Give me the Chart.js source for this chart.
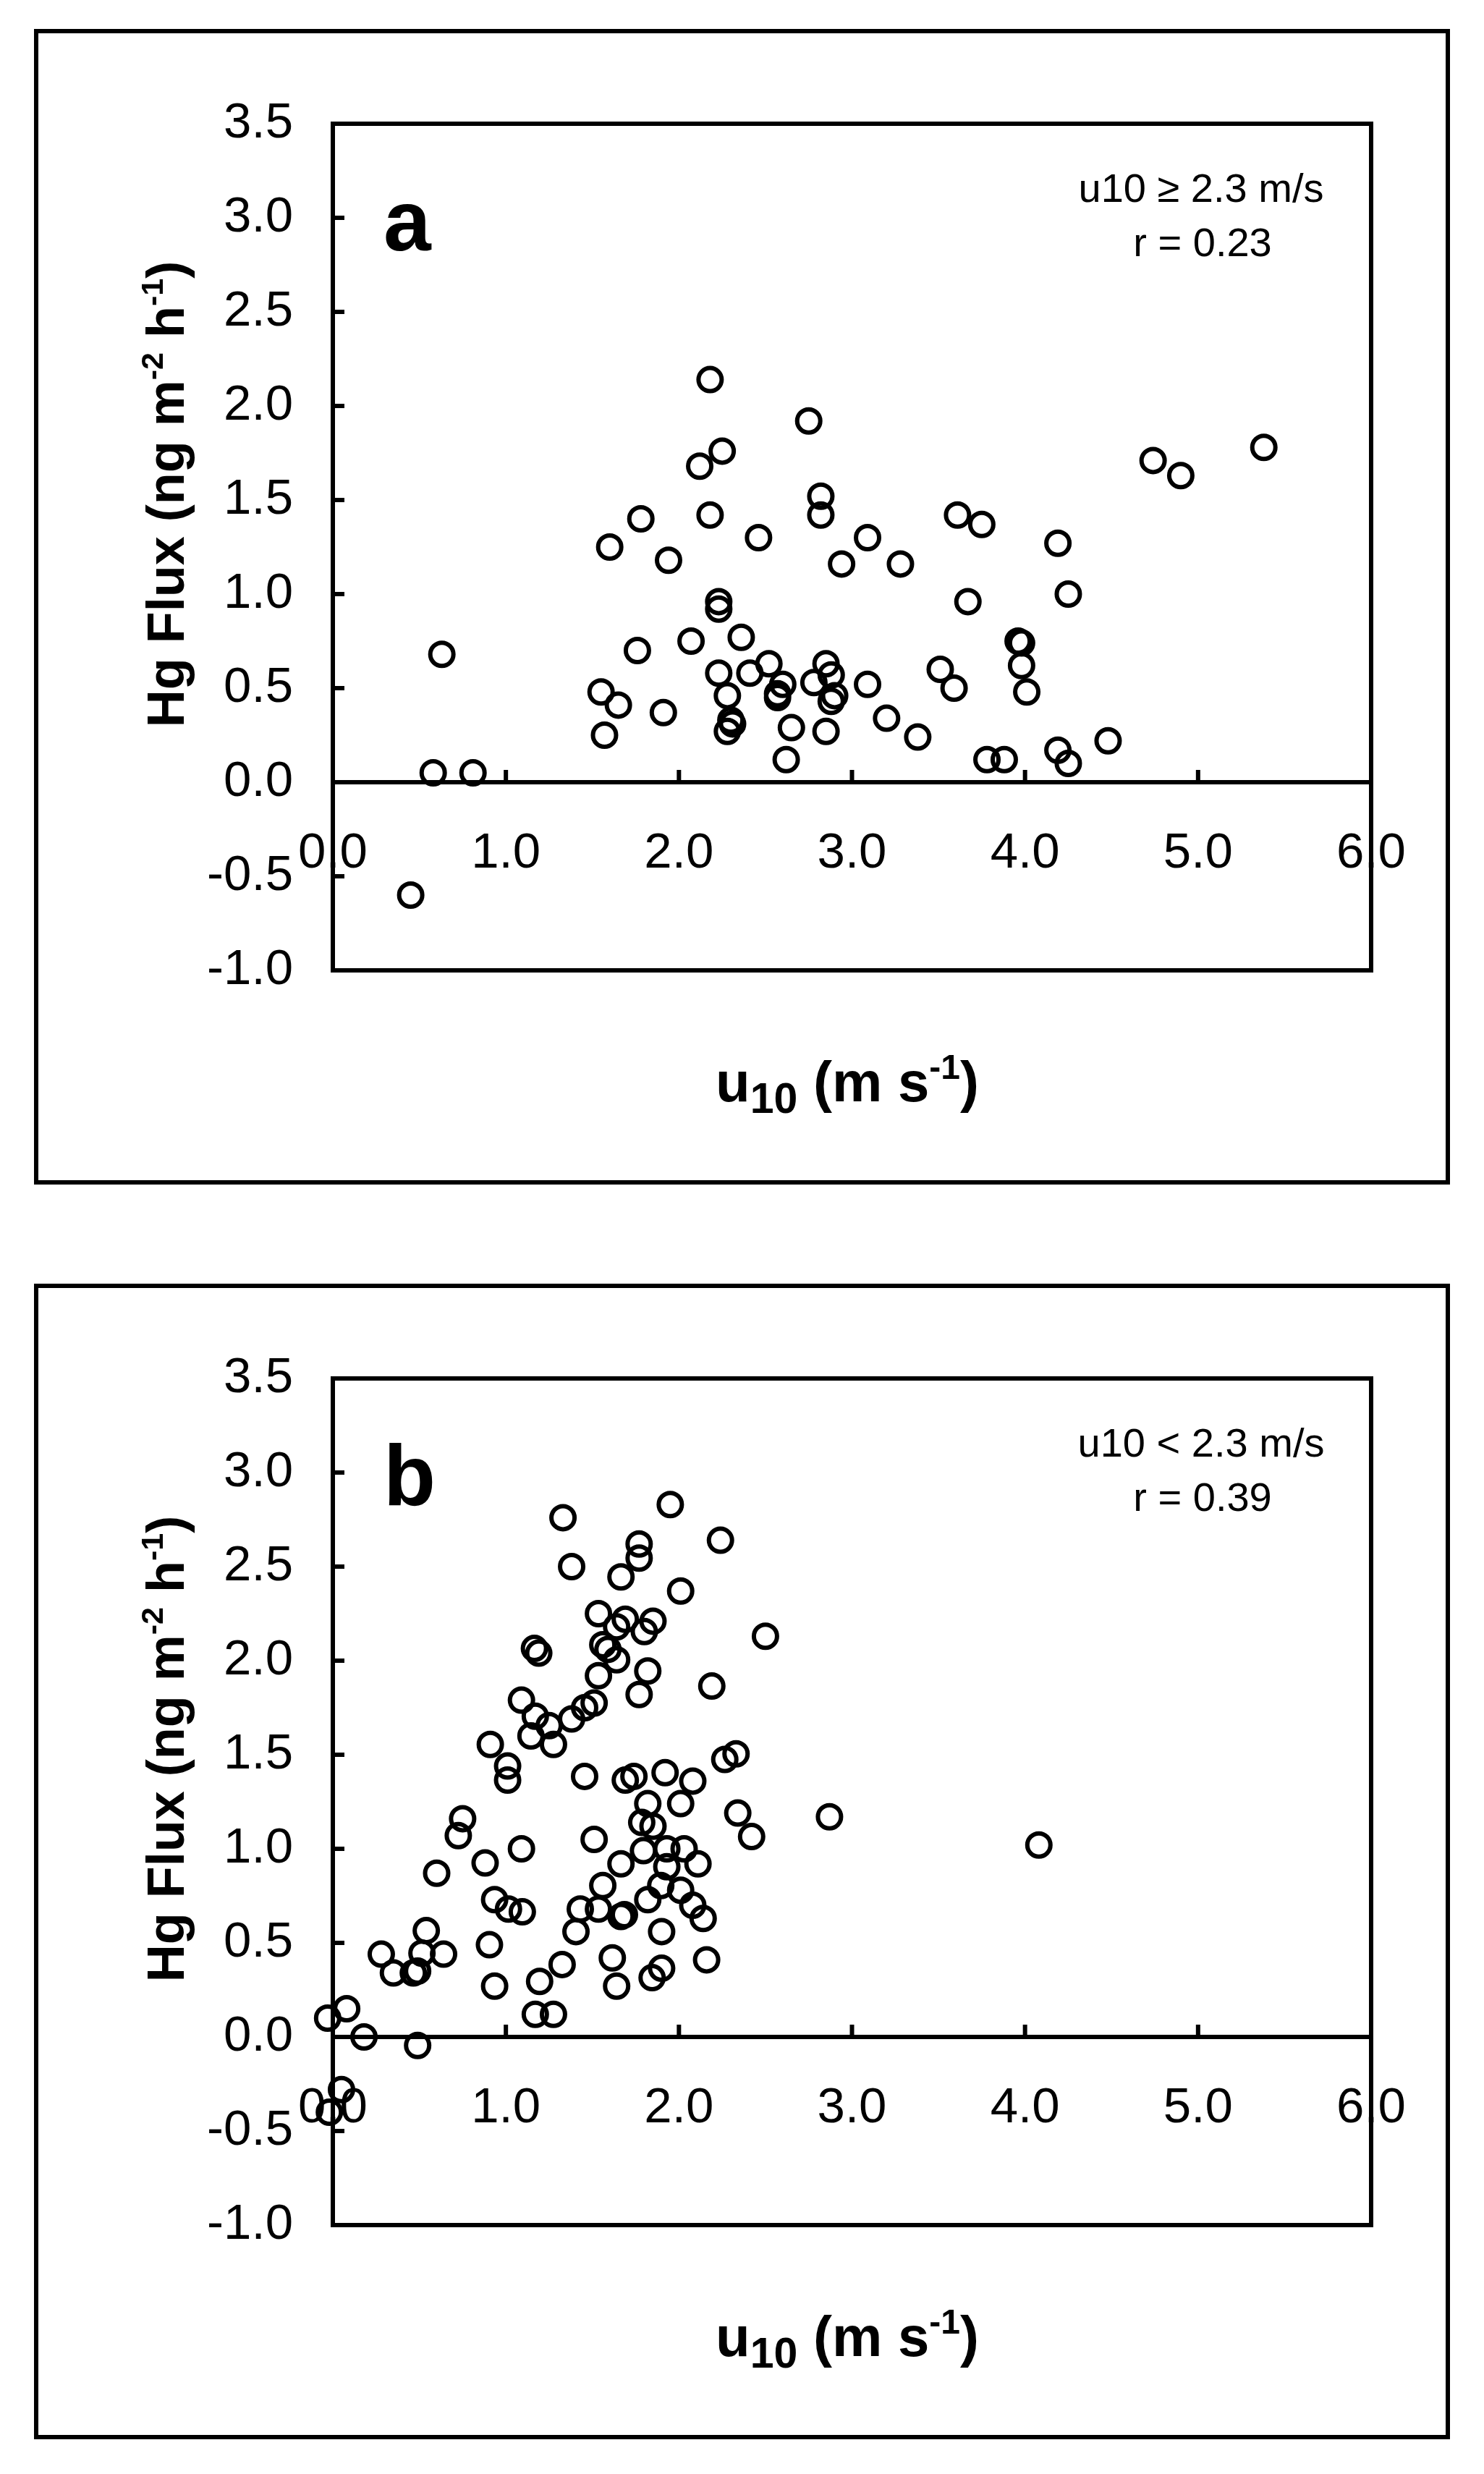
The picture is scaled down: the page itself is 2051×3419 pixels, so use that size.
<!DOCTYPE html>
<html>
<head>
<meta charset="utf-8">
<script src="https://cdn.jsdelivr.net/npm/chart.js@4.4.0/dist/chart.umd.min.js"></script>
<style>
html,body{margin:0;padding:0;background:#fff;}
canvas{display:block;}
</style>
</head>
<body>
<canvas id="chartA" width="2051" height="1734"></canvas>
<canvas id="chartB" width="2051" height="1685"></canvas>
<script>
// ---- tick values / labels ----
const xTickValues = [0, 1, 2, 3, 4, 5, 6];
const xTickLabels = ['0.0', '1.0', '2.0', '3.0', '4.0', '5.0', '6.0'];
const yTickValues = [-1.0, -0.5, 0.0, 0.5, 1.0, 1.5, 2.0, 2.5, 3.0, 3.5];
const yTickLabels = ['-1.0', '-0.5', '0.0', '0.5', '1.0', '1.5', '2.0', '2.5', '3.0', '3.5'];

// ---- panel a : u10 >= 2.3 m/s ----
const panelA_u10 = [0.45, 0.58, 0.81, 0.63, 1.55, 1.57, 1.60, 1.65, 1.76, 1.78, 1.91, 1.94,
  2.07, 2.12, 2.18, 2.18, 2.25, 2.23, 2.23, 2.23, 2.28, 2.30, 2.28, 2.31, 2.36, 2.41, 2.46,
  2.52, 2.57, 2.57, 2.60, 2.62, 2.65, 2.75, 2.78, 2.82, 2.82, 2.85, 2.88, 2.85, 2.90, 2.88,
  2.94, 3.09, 3.09, 3.20, 3.28, 3.38, 3.51, 3.59, 3.61, 3.67, 3.75, 3.78, 3.88, 3.96, 3.98,
  3.98, 4.01, 4.19, 4.19, 4.25, 4.25, 4.48, 4.74, 4.90, 5.38];
const panelA_flux = [-0.60, 0.05, 0.05, 0.68, 0.48, 0.25, 1.25, 0.41, 0.70, 1.40, 0.37, 1.18,
  0.75, 1.68, 2.14, 1.42, 1.76, 0.96, 0.92, 0.58, 0.46, 0.33, 0.27, 0.31, 0.77, 0.58, 1.30,
  0.63, 0.47, 0.45, 0.52, 0.12, 0.29, 1.92, 0.53, 1.52, 1.42, 0.63, 0.57, 0.27, 0.46, 0.43,
  1.16, 1.30, 0.52, 0.34, 1.16, 0.24, 0.60, 0.50, 1.42, 0.96, 1.37, 0.12, 0.12, 0.75, 0.74,
  0.62, 0.48, 1.27, 0.17, 1.00, 0.10, 0.22, 1.71, 1.63, 1.78];

// ---- panel b : u10 < 2.3 m/s ----
const panelB_u10 = [1.33, 1.95, 1.77, 1.77, 1.38, 1.665, 2.01, 1.535, 1.69, 1.85, 1.64, 1.80,
  1.165, 1.19, 1.56, 1.59, 1.64, 1.82, 1.535, 1.77, 1.09, 1.51, 1.455, 1.17, 1.38, 1.25,
  1.145, 1.275, 0.91, 1.01, 1.01, 1.455, 1.69, 1.74, 1.92, 1.82, 2.01,
  2.24, 2.50, 2.19, 2.265, 2.33, 2.08, 2.34, 2.87, 2.42, 4.08, 2.11, 2.08, 2.14, 2.16,
  1.785, 1.85, 0.75, 0.725, 1.51, 1.09, 0.88, 0.60, 1.795, 1.93, 2.03, 1.665, 1.93, 1.56,
  1.895, 1.82, 2.01, 0.935, 1.015, 1.095, 1.43, 1.535, 1.665, 1.685, 1.405, 1.90, 0.54,
  0.28, 0.515, 0.64, 0.35, 0.465, 0.49, 0.905, 1.325, 1.615, 1.90, 1.845, 1.64, 0.935,
  1.195, 1.17, 1.275, -0.03, 0.08, 0.18, 0.49, 0.05, -0.02];
const panelB_flux = [2.76, 2.83, 2.62, 2.545, 2.50, 2.445, 2.37, 2.25, 2.22, 2.21, 2.18, 2.155,
  2.065, 2.04, 2.085, 2.06, 2.005, 1.945, 1.92, 1.82, 1.79, 1.775, 1.75, 1.705, 1.69, 1.655,
  1.60, 1.555, 1.555, 1.44, 1.365, 1.385, 1.365, 1.385, 1.405, 1.24, 1.24,
  2.64, 2.13, 1.865, 1.475, 1.505, 1.36, 1.19, 1.17, 1.065, 1.02, 0.92, 0.70, 0.63, 0.41,
  1.14, 1.12, 1.16, 1.07, 1.05, 1.00, 0.925, 0.87, 0.99, 1.00, 1.00, 0.92, 0.905, 0.805,
  0.805, 0.73, 0.78, 0.73, 0.68, 0.665, 0.68, 0.68, 0.64, 0.65, 0.56, 0.56, 0.565,
  0.44, 0.445, 0.44, 0.34, 0.34, 0.35, 0.49, 0.385, 0.42, 0.365, 0.315, 0.27, 0.27,
  0.295, 0.12, 0.12, 0.10, 0.15, 0.00, -0.045, -0.28, -0.40];

// ---- texts ----
const panelLetters = ['a', 'b'];
const conditionTexts = ['u10 \u2265 2.3 m/s', 'u10 < 2.3 m/s'];
const rTexts = ['r = 0.23', 'r = 0.39'];

const FONT = '"Liberation Sans", Arial, sans-serif';

function drawRich(ctx, segs, size, cx, cy, rotate) {
  ctx.save();
  ctx.translate(cx, cy);
  if (rotate) ctx.rotate(-Math.PI / 2);
  let total = 0;
  const widths = segs.map(s => {
    ctx.font = 'bold ' + Math.round(size * (s.scale || 1)) + 'px ' + FONT;
    const w = ctx.measureText(s.t).width;
    total += w;
    return w;
  });
  let x = -total / 2;
  ctx.fillStyle = '#000';
  ctx.textBaseline = 'alphabetic';
  ctx.textAlign = 'left';
  segs.forEach((s, i) => {
    ctx.font = 'bold ' + Math.round(size * (s.scale || 1)) + 'px ' + FONT;
    ctx.fillText(s.t, x, (s.dy || 0) * size);
    x += widths[i];
  });
  ctx.restore();
}

const framePlugin = {
  id: 'frame',
  afterDraw(chart) {
    const ctx = chart.ctx;
    const ca = chart.chartArea;
    const xs = chart.scales.x, ys = chart.scales.y;
    const idx = chart.options.plugins.frame.index;
    ctx.save();
    ctx.strokeStyle = '#000';
    ctx.lineCap = 'butt';
    // outer box
    ctx.lineWidth = 6;
    ctx.strokeRect(50, 43, 1951, 1591);
    // plot border
    ctx.strokeRect(ca.left, ca.top, ca.right - ca.left, ca.bottom - ca.top);
    // zero line
    const y0 = ys.getPixelForValue(0);
    ctx.beginPath();
    ctx.moveTo(ca.left, y0);
    ctx.lineTo(ca.right, y0);
    ctx.stroke();
    // y ticks (inward)
    ys.ticks.forEach(t => {
      const py = ys.getPixelForValue(t.value);
      ctx.beginPath();
      ctx.moveTo(ca.left, py);
      ctx.lineTo(ca.left + 16, py);
      ctx.stroke();
    });
    // x ticks (upward from zero line)
    xs.ticks.forEach(t => {
      const px = xs.getPixelForValue(t.value);
      ctx.beginPath();
      ctx.moveTo(px, y0);
      ctx.lineTo(px, y0 - 17);
      ctx.stroke();
    });
    // panel letter
    ctx.fillStyle = '#000';
    ctx.textAlign = 'left';
    ctx.textBaseline = 'alphabetic';
    ctx.font = 'bold 118px ' + FONT;
    ctx.fillText(panelLetters[idx], 530, 346);
    // annotation
    ctx.textAlign = 'center';
    ctx.font = '56px ' + FONT;
    ctx.fillText(conditionTexts[idx], 1660, 279);
    ctx.fillText(rTexts[idx], 1662, 354);
    ctx.restore();
    // axis titles
    drawRich(ctx, [
      {t: 'Hg Flux (ng m'}, {t: '-2', scale: 0.6, dy: -0.4}, {t: ' h'},
      {t: '-1', scale: 0.6, dy: -0.4}, {t: ')'}
    ], 72, 254, 683, true);
    drawRich(ctx, [
      {t: 'u'}, {t: '10', scale: 0.75, dy: 0.2}, {t: ' (m s'},
      {t: '-1', scale: 0.62, dy: -0.4}, {t: ')'}
    ], 78, 1171, 1522, false);
  }
};

function makeChart(id, u10, flux, index, bottomPad) {
  const points = u10.map((x, i) => ({x: x, y: flux[i]}));
  return new Chart(document.getElementById(id), {
    type: 'scatter',
    data: {
      datasets: [{
        data: points,
        pointStyle: 'circle',
        pointRadius: 16,
        pointHoverRadius: 16,
        borderWidth: 6,
        borderColor: '#000',
        backgroundColor: 'rgba(0,0,0,0)',
        clip: false
      }]
    },
    options: {
      responsive: false,
      animation: false,
      events: [],
      layout: {padding: {left: 260, right: 156, top: 171, bottom: bottomPad}},
      plugins: {legend: {display: false}, tooltip: {enabled: false}, frame: {index: index}},
      scales: {
        x: {
          type: 'linear', min: 0, max: 6,
          position: {y: 0},
          afterBuildTicks: s => { s.ticks = xTickValues.map(v => ({value: v})); },
          ticks: {
            callback: (v) => xTickLabels[xTickValues.indexOf(v)],
            font: {family: FONT, size: 69},
            color: '#000', padding: 58, maxRotation: 0, autoSkip: false
          },
          grid: {display: false, drawTicks: false},
          border: {display: false}
        },
        y: {
          type: 'linear', min: -1, max: 3.5,
          afterBuildTicks: s => { s.ticks = yTickValues.map(v => ({value: v})); },
          afterFit: s => { s.width = 200; },
          ticks: {
            callback: (v) => yTickLabels[yTickValues.indexOf(v)],
            font: {family: FONT, size: 69},
            color: '#000', padding: 55, autoSkip: false
          },
          grid: {display: false, drawTicks: false},
          border: {display: false}
        }
      }
    },
    plugins: [framePlugin]
  });
}

makeChart('chartA', panelA_u10, panelA_flux, 0, 1734 - 1341);
makeChart('chartB', panelB_u10, panelB_flux, 1, 1685 - 1341);
</script>
</body>
</html>
